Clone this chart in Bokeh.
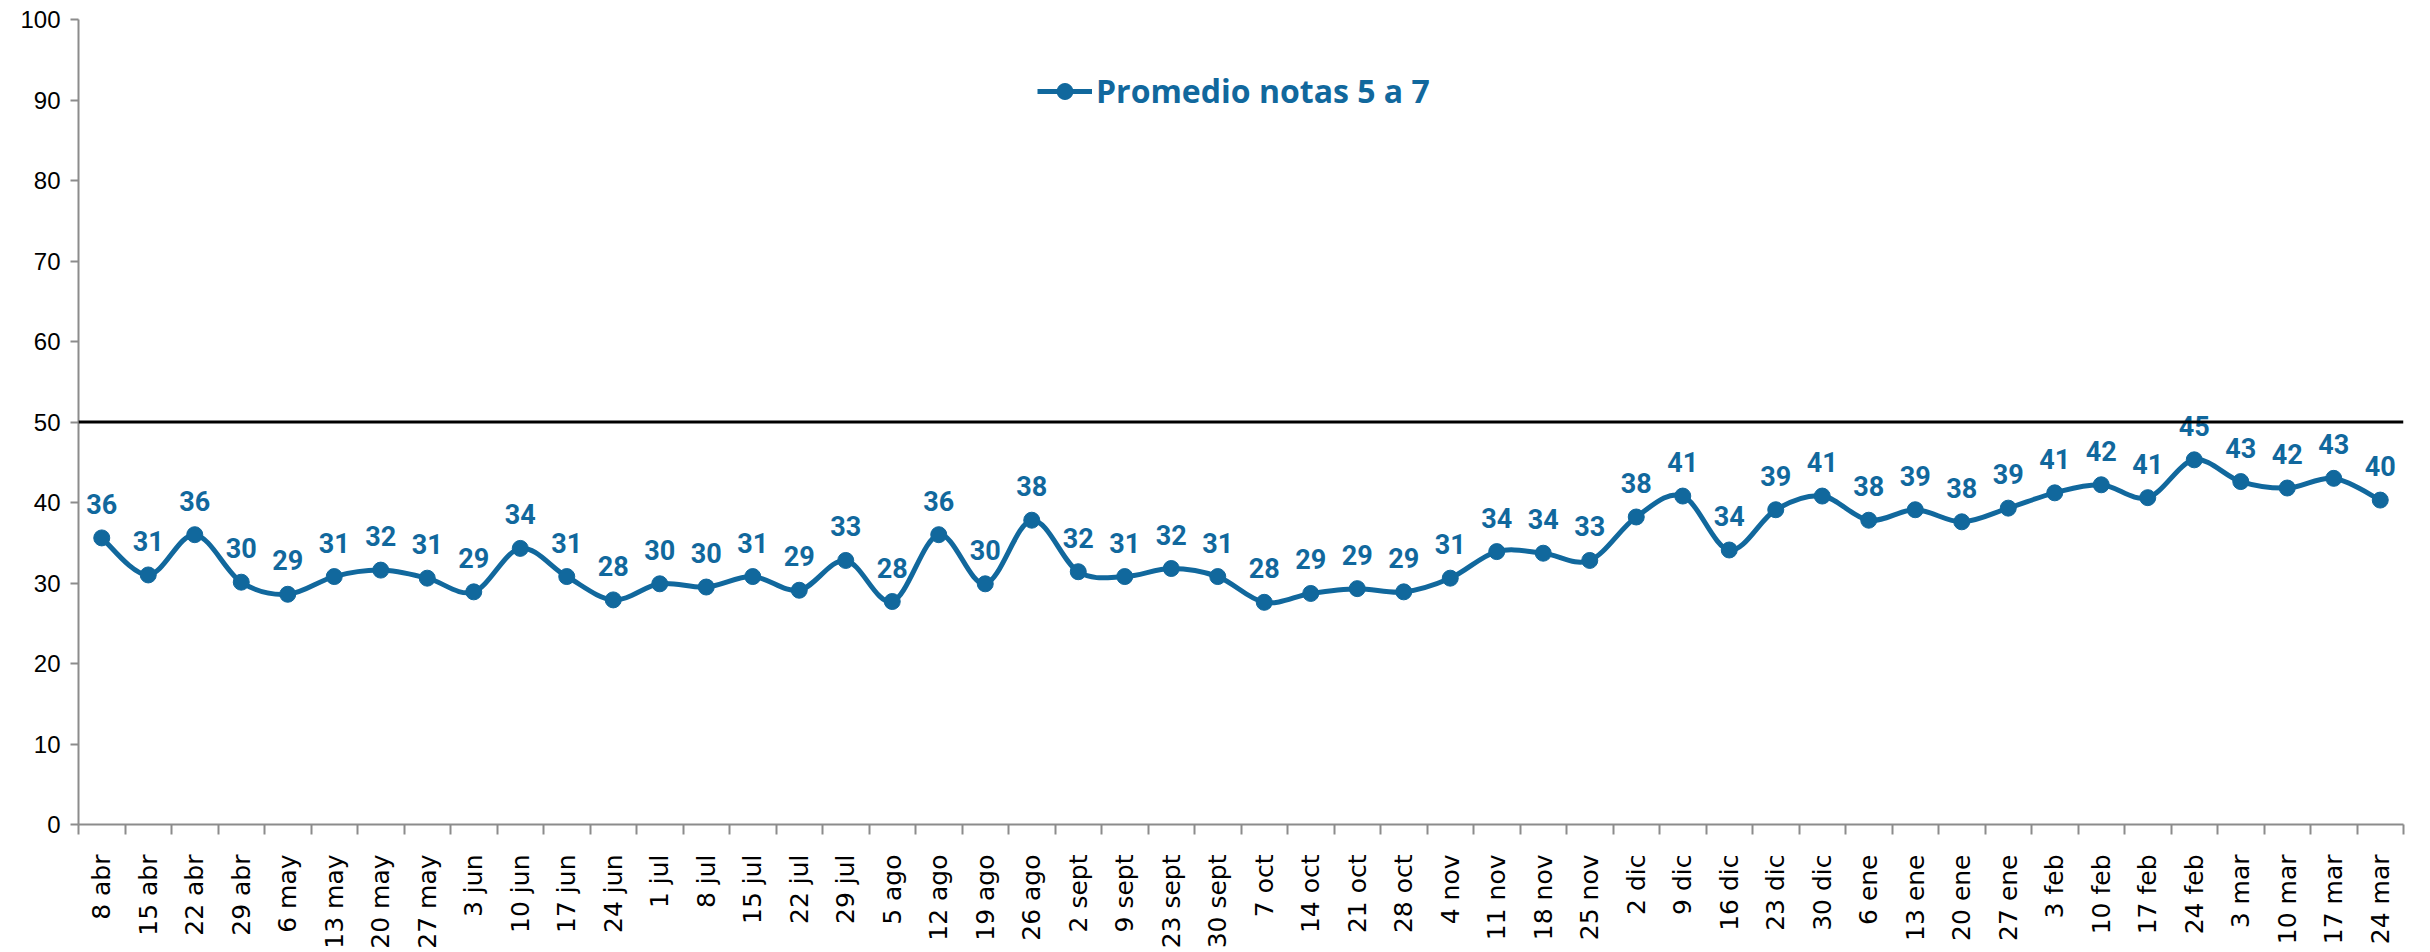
from bokeh.plotting import figure
from bokeh.models import FixedTicker, Span, Legend, LegendItem, Range1d
from bokeh.core.properties import value
from bokeh.embed import file_html
from bokeh.resources import INLINE

categories = ["8 abr", "15 abr", "22 abr", "29 abr", "6 may", "13 may", "20 may", "27 may",
              "3 jun", "10 jun", "17 jun", "24 jun", "1 jul", "8 jul", "15 jul", "22 jul",
              "29 jul", "5 ago", "12 ago", "19 ago", "26 ago", "2 sept", "9 sept", "23 sept",
              "30 sept", "7 oct", "14 oct", "21 oct", "28 oct", "4 nov", "11 nov", "18 nov",
              "25 nov", "2 dic", "9 dic", "16 dic", "23 dic", "30 dic", "6 ene", "13 ene",
              "20 ene", "27 ene", "3 feb", "10 feb", "17 feb", "24 feb", "3 mar", "10 mar",
              "17 mar", "24 mar"]

promedio = [35.6, 31.0, 36.0, 30.1, 28.6, 30.8, 31.6, 30.6, 28.9, 34.3, 30.8, 27.9,
            29.9, 29.5, 30.8, 29.1, 32.8, 27.7, 36.0, 29.9, 37.8, 31.4, 30.8, 31.8,
            30.8, 27.6, 28.7, 29.3, 28.9, 30.6, 33.9, 33.7, 32.8, 38.2, 40.8, 34.1,
            39.1, 40.8, 37.8, 39.1, 37.6, 39.3, 41.2, 42.2, 40.6, 45.3, 42.6, 41.8,
            43.0, 40.3]

labels = [36, 31, 36, 30, 29, 31, 32, 31, 29, 34, 31, 28, 30, 30, 31, 29, 33, 28, 36, 30,
          38, 32, 31, 32, 31, 28, 29, 29, 29, 31, 34, 34, 33, 38, 41, 34, 39, 41, 38, 39,
          38, 39, 41, 42, 41, 45, 43, 42, 43, 40]

y_ticks = [0, 10, 20, 30, 40, 50, 60, 70, 80, 90, 100]
reference_level = 50
series_name = "Promedio notas 5 a 7"

BLUE = "#11689d"
AXIS_GRAY = "#8c8c8c"

n = len(categories)
xs = list(range(n))

p = figure(frame_width=2325, frame_height=805, output_backend="svg", toolbar_location=None,
           x_range=Range1d(-0.5, n - 0.5), y_range=Range1d(0, 100),
           min_border_left=78, min_border_right=11, min_border_top=19, min_border_bottom=20)
p.outline_line_color = None
p.xgrid.visible = False
p.ygrid.visible = False
p.background_fill_color = "white"
p.border_fill_color = "white"

# y axis
p.yaxis.ticker = FixedTicker(ticks=y_ticks, minor_ticks=[])
p.yaxis.axis_line_color = AXIS_GRAY
p.yaxis.axis_line_width = 2
p.yaxis.major_tick_line_color = AXIS_GRAY
p.yaxis.major_tick_line_width = 2
p.yaxis.major_tick_out = 8
p.yaxis.major_tick_in = 0
p.yaxis.minor_tick_line_color = None
p.yaxis.major_label_text_font = "Liberation Sans"
p.yaxis.major_label_text_font_size = "24px"
p.yaxis.major_label_text_color = "black"
p.yaxis.major_label_standoff = 10

# x axis
p.xaxis.ticker = FixedTicker(ticks=xs, minor_ticks=[i - 0.5 for i in range(n + 1)])
p.xaxis.major_label_overrides = {i: c for i, c in zip(xs, categories)}
p.xaxis.axis_line_color = AXIS_GRAY
p.xaxis.axis_line_width = 2
p.xaxis.major_tick_line_color = None
p.xaxis.major_tick_out = 0
p.xaxis.major_tick_in = 0
p.xaxis.minor_tick_line_color = AXIS_GRAY
p.xaxis.minor_tick_line_width = 2
p.xaxis.minor_tick_out = 10
p.xaxis.minor_tick_in = 0
p.xaxis.major_label_orientation = 1.5707963
p.xaxis.major_label_text_font = "DejaVu Sans"
p.xaxis.major_label_text_font_size = "25px"
p.xaxis.major_label_text_color = "black"
p.xaxis.major_label_standoff = 20

# reference line at 50
p.add_layout(Span(location=reference_level, dimension="width", line_color="black", line_width=3))

# smooth line (Excel-style smoothed line, Catmull-Rom as cubic Bezier segments)
x0, y0, x1, y1, cx0, cy0, cx1, cy1 = [], [], [], [], [], [], [], []
for i in range(n - 1):
    xp = xs[i - 1] if i > 0 else xs[i]
    yp = promedio[i - 1] if i > 0 else promedio[i]
    xn2 = xs[i + 2] if i + 2 < n else xs[i + 1]
    yn2 = promedio[i + 2] if i + 2 < n else promedio[i + 1]
    x0.append(xs[i]); y0.append(promedio[i])
    x1.append(xs[i + 1]); y1.append(promedio[i + 1])
    cx0.append(xs[i] + (xs[i + 1] - xp) / 6.0)
    cy0.append(promedio[i] + (promedio[i + 1] - yp) / 6.0)
    cx1.append(xs[i + 1] - (xn2 - xs[i]) / 6.0)
    cy1.append(promedio[i + 1] - (yn2 - promedio[i]) / 6.0)

p.bezier(x0=x0, y0=y0, x1=x1, y1=y1, cx0=cx0, cy0=cy0, cx1=cx1, cy1=cy1,
         line_color=BLUE, line_width=5)
pts = p.scatter(xs, promedio, size=16, fill_color=BLUE, line_color=BLUE)

p.text(x=xs, y=promedio, text=[str(v) for v in labels],
       text_font=value("Roboto"), text_font_style="bold", text_font_size="27px",
       text_color=BLUE, text_align="center", text_baseline="bottom", y_offset=-24)

# legend
leg_line = p.line([0, 1], [-10, -10], line_color=BLUE, line_width=5)
leg_pt = p.scatter([0], [-10], size=16, fill_color=BLUE, line_color=BLUE)
legend = Legend(items=[LegendItem(label=series_name, renderers=[leg_line, leg_pt])],
                location=(959, 712), orientation="horizontal",
                label_text_font="Open Sans", label_text_font_style="bold",
                label_text_font_size="32px", label_text_color=BLUE,
                glyph_width=55, glyph_height=40, label_height=40, label_standoff=4,
                padding=0, spacing=0, margin=0,
                border_line_color=None, background_fill_alpha=0)
p.add_layout(legend, "center")

open("out.html", "w").write(file_html(p, INLINE))
